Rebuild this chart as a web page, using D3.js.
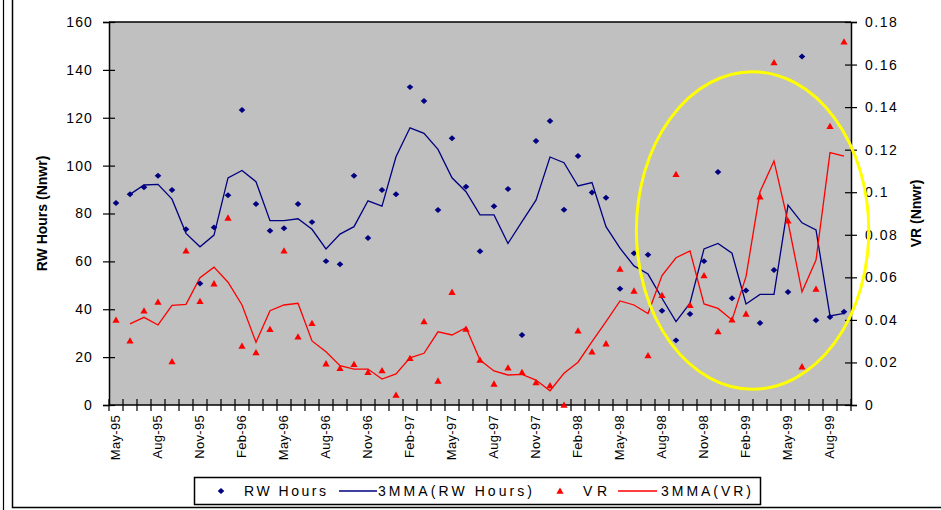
<!DOCTYPE html>
<html>
<head>
<meta charset="utf-8">
<script src="https://cdn.jsdelivr.net/npm/d3@7"></script>
<style>
  html, body { margin: 0; padding: 0; background: #fff; }
  svg { display: block; font-family: "Liberation Sans", Arial, sans-serif; }
</style>
</head>
<body>
<svg id="chart" width="941" height="510"></svg>
<script>
// ---------------- data ----------------
const months = [
  "May-95","Jun-95","Jul-95","Aug-95","Sep-95","Oct-95","Nov-95","Dec-95",
  "Jan-96","Feb-96","Mar-96","Apr-96","May-96","Jun-96","Jul-96","Aug-96","Sep-96","Oct-96","Nov-96","Dec-96",
  "Jan-97","Feb-97","Mar-97","Apr-97","May-97","Jun-97","Jul-97","Aug-97","Sep-97","Oct-97","Nov-97","Dec-97",
  "Jan-98","Feb-98","Mar-98","Apr-98","May-98","Jun-98","Jul-98","Aug-98","Sep-98","Oct-98","Nov-98","Dec-98",
  "Jan-99","Feb-99","Mar-99","Apr-99","May-99","Jun-99","Jul-99","Aug-99","Sep-99"
];
const xLabels = ["May-95","Aug-95","Nov-95","Feb-96","May-96","Aug-96","Nov-96","Feb-97","May-97","Aug-97",
  "Nov-97","Feb-98","May-98","Aug-98","Nov-98","Feb-99","May-99","Aug-99"];

const rwHours = [84.4, 88.0, 91.0, 95.8, 89.8, 73.4, 50.8, 74.2, 87.6, 123.2,
  84.0, 72.8, 73.8, 84.0, 76.4, 60.1, 58.8, 95.8, 69.8, 89.8,
  88.0, 132.8, 127.0, 81.5, 111.4, 91.2, 64.2, 83.0, 90.2, 29.2,
  110.3, 118.6, 81.6, 104.0, 88.8, 86.6, 48.6, 63.4, 62.8, 39.4,
  27.0, 38.0, 60.1, 97.3, 44.6, 47.8, 34.3, 56.4, 47.2, 145.6,
  35.4, 36.8, 39.0];

const rwMA = [null, 88.0, 91.9, 92.2, 86.0, 71.7, 66.1, 71.0, 94.9, 98.0,
  93.3, 77.0, 77.0, 77.8, 73.4, 65.2, 71.4, 74.5, 85.3, 83.1,
  103.7, 115.8, 113.5, 106.8, 94.9, 89.1, 79.4, 79.4, 67.5, 76.6,
  85.6, 103.6, 101.2, 91.5, 92.9, 74.5, 65.5, 58.1, 54.7, 44.6,
  34.8, 42.5, 65.2, 67.5, 63.4, 42.2, 46.2, 46.2, 83.5, 76.1,
  73.1, 37.2, 38.3];

const vr = [0.0399, 0.0302, 0.0443, 0.0484, 0.0204, 0.0725, 0.0487, 0.0570, 0.0879, 0.0277,
  0.0246, 0.0356, 0.0725, 0.0320, 0.0384, 0.0194, 0.0172, 0.0191, 0.0154, 0.0162,
  0.0047, 0.0219, 0.0392, 0.0113, 0.0530, 0.0357, 0.0211, 0.0099, 0.0175, 0.0154,
  0.0105, 0.0091, 0.0000, 0.0349, 0.0250, 0.0288, 0.0639, 0.0536, 0.0232, 0.0515,
  0.1084, 0.0469, 0.0608, 0.0345, 0.0400, 0.0428, 0.0979, 0.1609, 0.0866, 0.0180,
  0.0545, 0.1310, 0.1707];

const vrMA = [null, 0.0381, 0.0412, 0.0376, 0.0468, 0.0473, 0.0598, 0.0648, 0.0577, 0.0470,
  0.0295, 0.0443, 0.0470, 0.0478, 0.0301, 0.0250, 0.0185, 0.0169, 0.0169, 0.0122,
  0.0146, 0.0222, 0.0243, 0.0344, 0.0329, 0.0363, 0.0211, 0.0160, 0.0141, 0.0144,
  0.0117, 0.0067, 0.0149, 0.0201, 0.0298, 0.0392, 0.0489, 0.0470, 0.0430, 0.0608,
  0.0692, 0.0724, 0.0475, 0.0454, 0.0400, 0.0603, 0.1002, 0.1147, 0.0860, 0.0532,
  0.0681, 0.1186, 0.1170];

const leftTicks = [0, 20, 40, 60, 80, 100, 120, 140, 160];
const rightTicks = [0, 0.02, 0.04, 0.06, 0.08, 0.1, 0.12, 0.14, 0.16, 0.18];

// highlight ellipse (data terms: centre month + fraction of band, centre RW value, radii in bands / RW units)
const highlight = { month: "Feb-99", frac: 0.97, value: 72.9, bandsX: 8.3, valueY: 66.3 };

// ---------------- styles ----------------
const NAVY = "#000080", RED = "#FF0000", PLOT_BG = "#C0C0C0";
const margin = { left: 109, right: 851, top: 22, bottom: 405 };

const svg = d3.select("#chart");

// frames
svg.append("line").attr("x1", 3.5).attr("x2", 3.5).attr("y1", 0).attr("y2", 510)
  .attr("stroke", "#000").attr("stroke-width", 1.2);
svg.append("path").attr("d", "M12.5,0 V507.5 H941")
  .attr("fill", "none").attr("stroke", "#000").attr("stroke-width", 1.5);

// scales
const x = d3.scaleBand().domain(months).range([margin.left, margin.right]).padding(0);
const yL = d3.scaleLinear().domain([0, 160]).range([margin.bottom, margin.top]);
const yR = d3.scaleLinear().domain([0, 0.18]).range([margin.bottom, margin.top]);
const cx = m => x(m) + x.bandwidth() / 2;

// plot area
svg.append("rect")
  .attr("x", margin.left).attr("y", margin.top)
  .attr("width", margin.right - margin.left).attr("height", margin.bottom - margin.top)
  .attr("fill", PLOT_BG);
svg.append("line").attr("x1", margin.left).attr("x2", margin.right)
  .attr("y1", margin.top).attr("y2", margin.top)
  .attr("stroke", "#000").attr("stroke-width", 1.5);

// left axis
const gL = svg.append("g").attr("transform", `translate(${margin.left},0)`)
  .call(d3.axisLeft(yL).tickValues(leftTicks).tickSize(6).tickPadding(10).tickFormat(d3.format("d")));
gL.select(".domain").attr("stroke", "#000").attr("stroke-width", 1.5);
gL.selectAll(".tick line").attr("x1", 6).attr("stroke", "#000").attr("stroke-width", 1.2);
gL.selectAll(".tick text").attr("font-size", 14).style("letter-spacing", "1.1px")
  .attr("fill", "#000").attr("font-family", "Liberation Sans, Arial, sans-serif");

// right axis
const gR = svg.append("g").attr("transform", `translate(${margin.right},0)`)
  .call(d3.axisRight(yR).tickValues(rightTicks).tickSize(6).tickPadding(8).tickFormat(d => d === 0 ? "0" : String(+d.toFixed(2))));
gR.select(".domain").attr("stroke", "#000").attr("stroke-width", 1.5);
gR.selectAll(".tick line").attr("x1", -6).attr("stroke", "#000").attr("stroke-width", 1.2);
gR.selectAll(".tick text").attr("font-size", 14).style("letter-spacing", "1.5px")
  .attr("fill", "#000").attr("font-family", "Liberation Sans, Arial, sans-serif");

// x axis: domain line, crossing ticks at band edges, rotated labels
svg.append("line").attr("x1", margin.left).attr("x2", margin.right)
  .attr("y1", margin.bottom).attr("y2", margin.bottom)
  .attr("stroke", "#000").attr("stroke-width", 1.5);
const edges = months.map(m => x(m)).concat([x.range()[1]]);
svg.append("g").selectAll("line").data(edges).join("line")
  .attr("x1", d => d).attr("x2", d => d)
  .attr("y1", margin.bottom - 6).attr("y2", margin.bottom + 6)
  .attr("stroke", "#000").attr("stroke-width", 1.2);
const gX = svg.append("g").attr("transform", `translate(0,${margin.bottom})`)
  .call(d3.axisBottom(x).tickValues(xLabels).tickSize(0));
gX.select(".domain").remove();
gX.selectAll(".tick text")
  .attr("transform", "rotate(-90)")
  .attr("x", -10).attr("y", 0).attr("dy", "0.28em")
  .style("text-anchor", "end")
  .attr("font-size", 13).style("letter-spacing", "0.3px")
  .attr("fill", "#000").attr("font-family", "Liberation Sans, Arial, sans-serif");

// axis titles
svg.append("text").attr("transform", `translate(47,${(margin.top + margin.bottom) / 2}) rotate(-90)`)
  .attr("text-anchor", "middle").attr("font-size", 14).attr("font-weight", "bold")
  .text("RW Hours (Nnwr)");
svg.append("text").attr("transform", `translate(921,${(margin.top + margin.bottom) / 2}) rotate(-90)`)
  .attr("text-anchor", "middle").attr("font-size", 14).attr("font-weight", "bold")
  .text("VR (Nnwr)");

// symbols
const diamond = { draw(ctx, size) { const r = Math.sqrt(size) / 2; ctx.moveTo(0, -r * 0.9); ctx.lineTo(r, 0); ctx.lineTo(0, r * 0.9); ctx.lineTo(-r, 0); ctx.closePath(); } };
const triangle = { draw(ctx, size) { const r = Math.sqrt(size) / 2; ctx.moveTo(0, -r); ctx.lineTo(r, r * 0.75); ctx.lineTo(-r, r * 0.75); ctx.closePath(); } };
const diamondPath = d3.symbol().type(diamond).size(44)();
const trianglePath = d3.symbol().type(triangle).size(52)();

// lines
const lineL = d3.line().defined(d => d[1] != null).x(d => cx(d[0])).y(d => yL(d[1]));
const lineR = d3.line().defined(d => d[1] != null).x(d => cx(d[0])).y(d => yR(d[1]));

svg.append("path").datum(months.map((m, i) => [m, rwMA[i]]))
  .attr("d", lineL).attr("fill", "none").attr("stroke", NAVY).attr("stroke-width", 1.3);
svg.append("path").datum(months.map((m, i) => [m, vrMA[i]]))
  .attr("d", lineR).attr("fill", "none").attr("stroke", RED).attr("stroke-width", 1.3);

// points
svg.append("g").selectAll("path").data(months.map((m, i) => [m, rwHours[i]])).join("path")
  .attr("d", diamondPath).attr("fill", NAVY)
  .attr("transform", d => `translate(${cx(d[0])},${yL(d[1])})`);
svg.append("g").selectAll("path").data(months.map((m, i) => [m, vr[i]])).join("path")
  .attr("d", trianglePath).attr("fill", RED)
  .attr("transform", d => `translate(${cx(d[0])},${yR(d[1])})`);

// highlight ellipse
svg.append("ellipse")
  .attr("cx", x(highlight.month) + x.bandwidth() * highlight.frac)
  .attr("cy", yL(highlight.value))
  .attr("rx", x.step() * highlight.bandsX)
  .attr("ry", yL(0) - yL(highlight.valueY))
  .attr("fill", "none").attr("stroke", "#FFFF00").attr("stroke-width", 3);

// legend
const lg = svg.append("g");
lg.append("rect").attr("x", 194.5).attr("y", 477.5).attr("width", 566).attr("height", 27)
  .attr("fill", "#fff").attr("stroke", "#000").attr("stroke-width", 1.5);
const ly = 491;
lg.append("path").attr("d", diamondPath).attr("fill", NAVY).attr("transform", `translate(221,${ly})`);
lg.append("line").attr("x1", 339).attr("x2", 377).attr("y1", ly).attr("y2", ly).attr("stroke", NAVY).attr("stroke-width", 1.3);
lg.append("path").attr("d", trianglePath).attr("fill", RED).attr("transform", `translate(560,${ly})`);
lg.append("line").attr("x1", 618).attr("x2", 657).attr("y1", ly).attr("y2", ly).attr("stroke", RED).attr("stroke-width", 1.3);
const legendTexts = [
  { t: "RW Hours", x: 244, w: 82 },
  { t: "3MMA(RW Hours)", x: 378, w: 154 },
  { t: "VR", x: 583, w: 24 },
  { t: "3MMA(VR)", x: 661, w: 90 }
];
lg.selectAll("text.lt").data(legendTexts).join("text").attr("class", "lt")
  .attr("x", d => d.x).attr("y", ly + 5)
  .attr("font-size", 14)
  .attr("textLength", d => d.w).attr("lengthAdjust", "spacing")
  .text(d => d.t);
</script>
</body>
</html>
